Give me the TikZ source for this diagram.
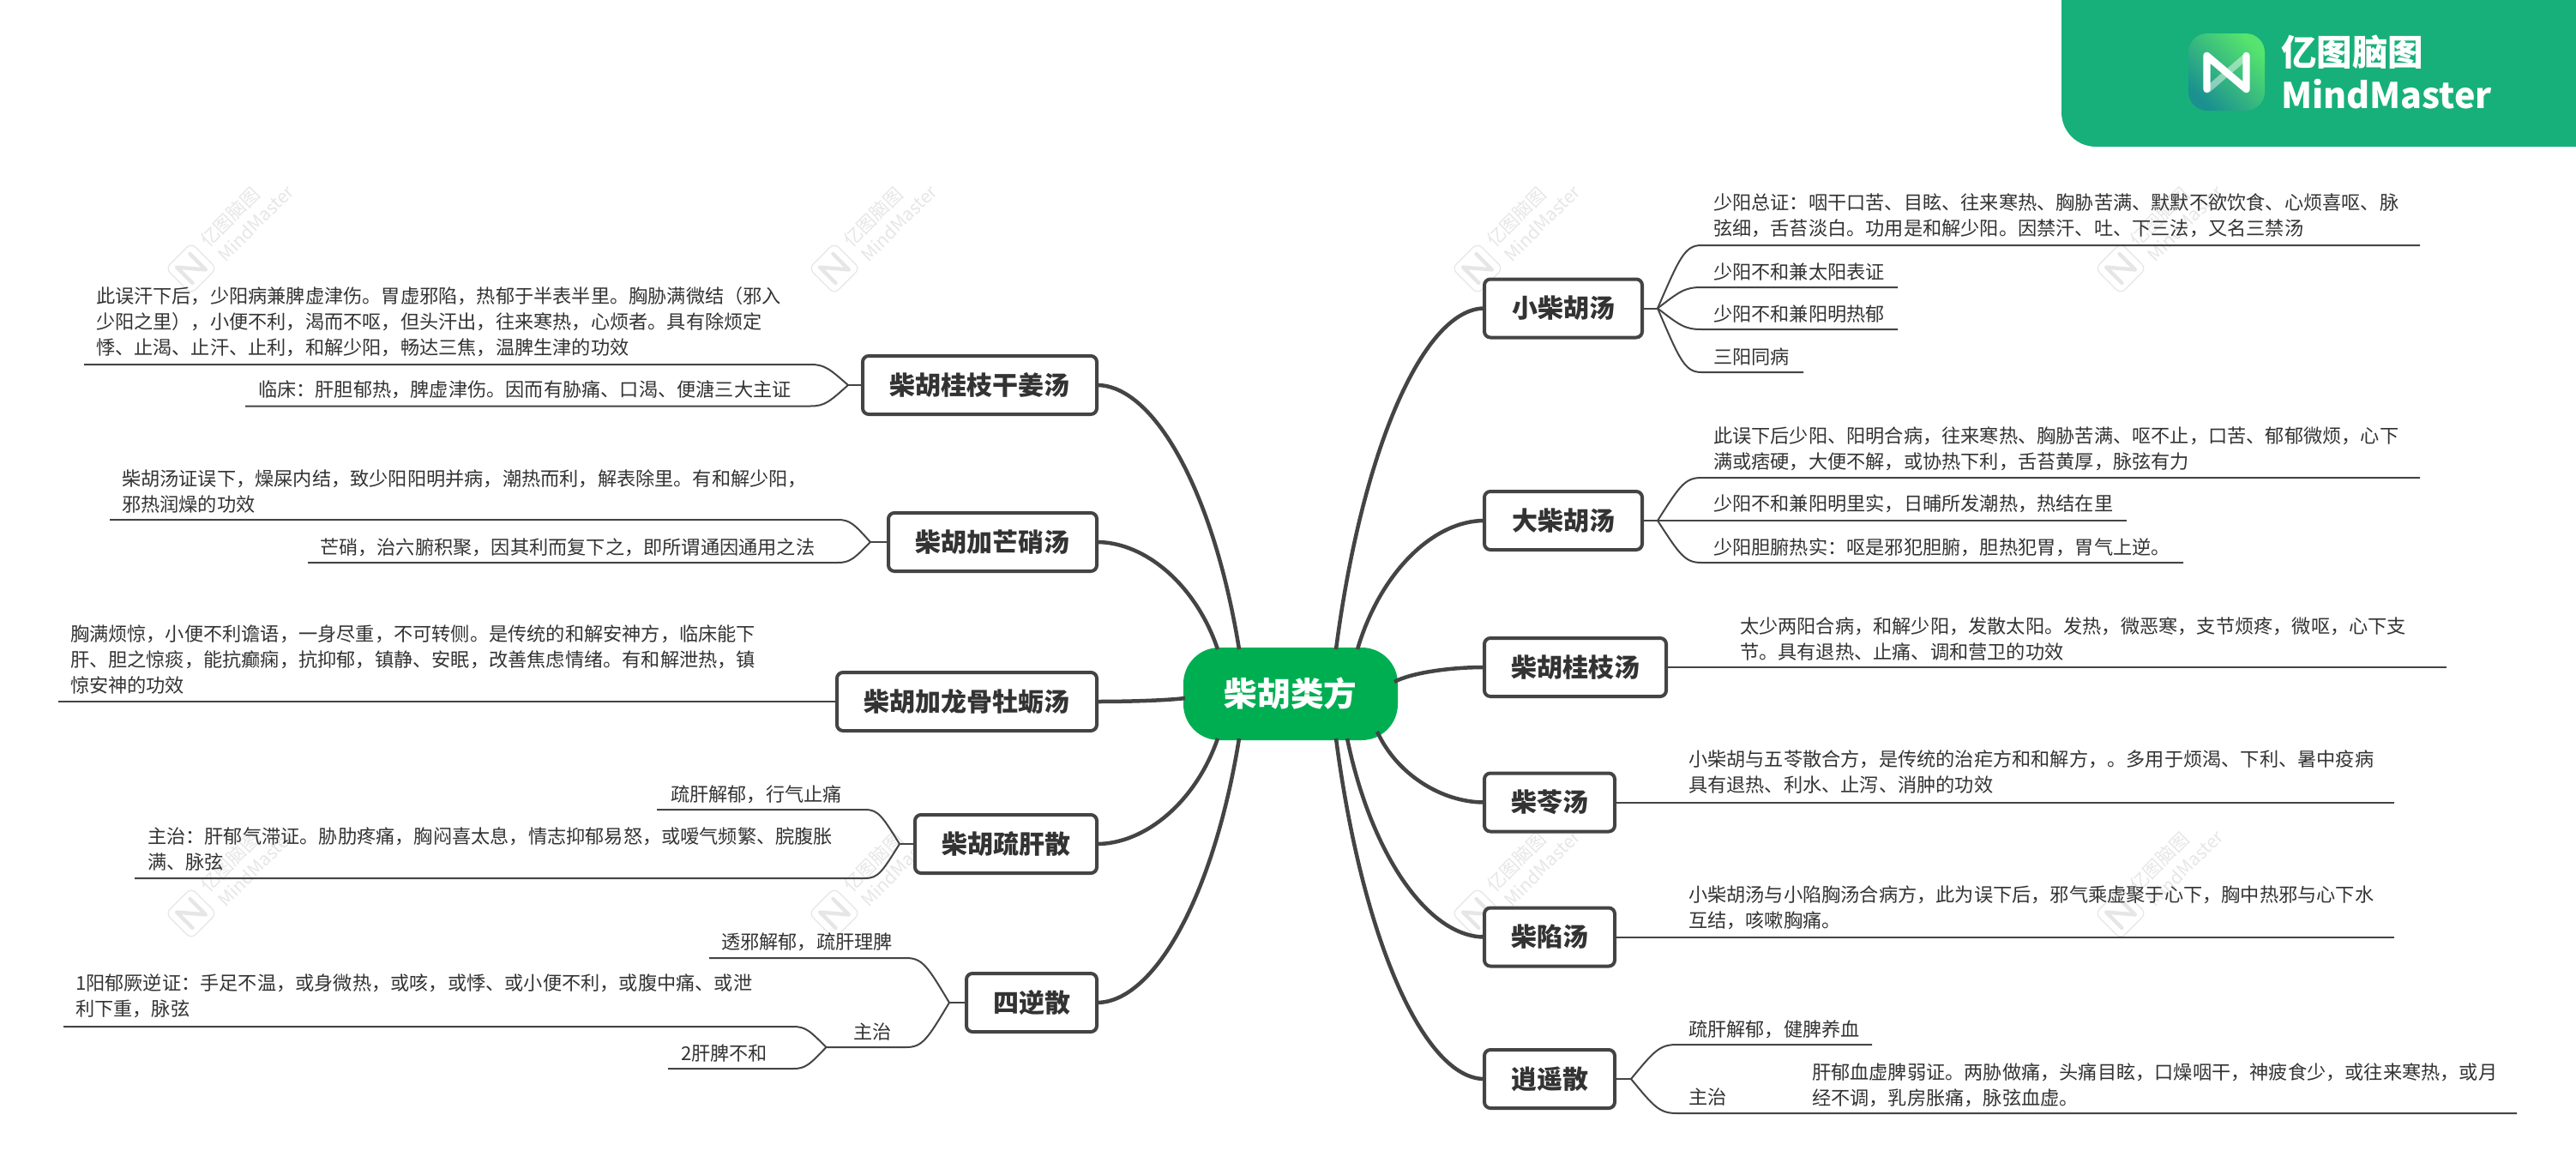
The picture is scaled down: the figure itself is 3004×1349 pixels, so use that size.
\documentclass[tikz,border=0pt]{standalone}
\usepackage{fontspec}
\setmainfont{Noto Sans CJK SC}
\usetikzlibrary{calc,shadings}
\definecolor{ink}{HTML}{333333}
\definecolor{linec}{HTML}{444444}
\definecolor{wmc}{HTML}{E6E6E6}
\definecolor{rootc}{HTML}{00AE52}
\definecolor{badgec}{HTML}{17B07A}
\definecolor{icona}{HTML}{56E46E}
\definecolor{iconb}{HTML}{1A9090}
\tikzset{
  x=0.5pt,y=-0.5pt,
  bodytxt/.style={anchor=west,inner sep=0pt,outer sep=0pt,align=left,text=ink,font=\fontsize{11.1}{15}\selectfont},
  topicw/.style={draw=linec,line width=2pt,rounded corners=3.5pt,fill=white,minimum height=34pt,inner sep=0pt,outer sep=0pt,text=ink,font=\fontsize{15}{18}\selectfont\bfseries,minimum width=#1},
  rootbox/.style={fill=rootc,rounded corners=21pt,minimum width=125pt,minimum height=54pt,inner sep=0pt,outer sep=0pt,text=white,font=\fontsize{19.3}{22}\selectfont\bfseries},
  mainlink/.style={draw=linec,line width=2.25pt},
  sublink/.style={draw=linec,line width=1pt},
  wmtxt/.style={text=wmc,inner sep=0pt,outer sep=0pt,rotate=45},
  badgetxt/.style={anchor=west,text=white,inner sep=0pt,outer sep=0pt,font=\bfseries}
}
\newcommand{\maincurve}[2]{\draw[mainlink] let \p1=(#1),\p2=(#2) in (#1) .. controls (\x1+0.18*\x2-0.18*\x1,\y1+0.6*\y2-0.6*\y1) and (\x1+0.6*\x2-0.6*\x1,\y2) .. (#2);}
\newcommand{\branch}[5]{%
  \coordinate (#2c) at (#3,#4);
  \coordinate (#2e) at (#5,#4);
  \draw[sublink] let \p1=(#1),\p2=(#2c) in (#1) .. controls (\x1+0.5*\x2-0.5*\x1,\y1+0.8*\y2-0.8*\y1) and (\x1+0.62*\x2-0.62*\x1,\y2) .. (#2c) -- (#2e);}
\newcommand{\straightlink}[4]{%
  \coordinate (#2e) at (#3,#4);
  \draw[sublink] (#1) -- (#2e);}
\begin{document}
\begin{tikzpicture}
\useasboundingbox (0,0) rectangle (3004,1349);
% watermarks
\foreach \wx in {223,973,1723,2473}{
 \foreach \wy in {313,1065}{
  \begin{scope}[shift={(\wx,\wy)}]
   \begin{scope}[rotate=45]
    \draw[wmc,line width=0.6pt,rounded corners=3.5pt,fill=white] (-21,-21) rectangle (21,21);
    \draw[wmc,line width=2.2pt,line join=round,line cap=round] (-11,13) -- (-11,-13) -- (11,13) -- (11,-13);
   \end{scope}
   \node[wmtxt,font=\fontsize{10.8}{12}\selectfont] (wa\wx\wy) at (45,-60) {亿图脑图};
   \node[wmtxt,font=\fontsize{10.5}{12}\selectfont] (wb\wx\wy) at (75,-53) {MindMaster};
  \end{scope}
 }
}
% badge
\fill[badgec,rounded corners=20pt] (2404,-60) rectangle (3064,171);
\node[minimum width=44.5pt,minimum height=45pt,inner sep=0pt,rounded corners=11pt,left color=icona,right color=iconb,shading angle=-45] (icon) at (2596.5,84) {};
\draw[white,opacity=0.45,line width=3.8pt,line cap=round] (2575,104) -- (2619,66);
\draw[white,line width=4.2pt,line join=round,line cap=round] ($(icon)+(-23,20)$) -- ($(icon)+(-23,-19)$) -- ($(icon)+(23,20)$) -- ($(icon)+(23,-19)$);
\node[badgetxt,font=\fontsize{20.8}{24}\selectfont\bfseries] (bdga) at (2660,61) {亿图脑图};
\node[badgetxt,font=\fontsize{20.6}{24}\selectfont\bfseries] (bdgb) at (2660,110) {MindMaster};
% root
\node[rootbox] (root) at (1505,809) {柴胡类方};
\coordinate (rt1) at (1558,757);
\coordinate (rt2) at (1583,757);
\coordinate (rt3) at (1626,795);
\coordinate (rb1) at (1606,853);
\coordinate (rb2) at (1571,861);
\coordinate (rb3) at (1558,861);
\coordinate (lt1) at (1445,757);
\coordinate (lt2) at (1420,757);
\coordinate (lm) at (1382,814);
\coordinate (lb1) at (1420,861);
\coordinate (lb2) at (1445,861);
% right topics
\node[topicw=92pt,anchor=west] (a1) at (1731,359.5) {小柴胡汤};
\node[topicw=92pt,anchor=west] (a2) at (1731,607) {大柴胡汤};
\node[topicw=106pt,anchor=west] (a3) at (1731,778) {柴胡桂枝汤};
\node[topicw=76pt,anchor=west] (a4) at (1731,935.5) {柴苓汤};
\node[topicw=76pt,anchor=west] (a5) at (1731,1092.5) {柴陷汤};
\node[topicw=76pt,anchor=west] (a6) at (1731,1258) {逍遥散};
% left topics
\node[topicw=136.5pt,anchor=east] (b1) at (1279,449) {柴胡桂枝干姜汤};
\node[topicw=121.5pt,anchor=east] (b2) at (1279,632) {柴胡加芒硝汤};
\node[topicw=151.5pt,anchor=east] (b3) at (1279,818) {柴胡加龙骨牡蛎汤};
\node[topicw=106pt,anchor=east] (b4) at (1279,984) {柴胡疏肝散};
\node[topicw=76pt,anchor=east] (b5) at (1279,1169) {四逆散};
% main connectors
\maincurve{rt1}{a1.west}
\maincurve{rt2}{a2.west}
\maincurve{rt3}{a3.west}
\maincurve{rb1}{a4.west}
\maincurve{rb2}{a5.west}
\maincurve{rb3}{a6.west}
\maincurve{lt1}{b1.east}
\maincurve{lt2}{b2.east}
\maincurve{lm}{b3.east}
\maincurve{lb1}{b4.east}
\maincurve{lb2}{b5.east}
% forks
\coordinate (fa1) at (1933,359.5);
\coordinate (fa2) at (1933,607);
\coordinate (fa6) at (1902,1258);
\coordinate (fb1) at (989,449);
\coordinate (fb2) at (1015,632);
\coordinate (fb4) at (1049,984);
\coordinate (fb5) at (1107,1169);
\coordinate (fb6) at (963.5,1221);
\draw[sublink] (a1.east) -- (fa1);
\draw[sublink] (a2.east) -- (fa2);
\draw[sublink] (a6.east) -- (fa6);
\draw[sublink] (b1.west) -- (fb1);
\draw[sublink] (b2.west) -- (fb2);
\draw[sublink] (b4.west) -- (fb4);
\draw[sublink] (b5.west) -- (fb5);
% right branches
\branch{fa1}{c11}{1984}{286}{2822}
\branch{fa1}{c12}{1984}{335}{2213}
\branch{fa1}{c13}{1984}{384}{2213}
\branch{fa1}{c14}{1984}{434}{2103}
\branch{fa2}{c21}{1984}{557}{2822}
\straightlink{fa2}{c22}{2480}{607}
\branch{fa2}{c23}{1984}{656}{2546}
\straightlink{a3.east}{c31}{2853}{778}
\straightlink{a4.east}{c41}{2792}{935.5}
\straightlink{a5.east}{c51}{2792}{1092.5}
\branch{fa6}{c61}{1955}{1218}{2183}
\branch{fa6}{c62}{1955}{1298}{2935}
% left branches
\branch{fb1}{d11}{945}{425}{98}
\branch{fb1}{d12}{945}{473.5}{286}
\branch{fb2}{d21}{977}{606}{128}
\branch{fb2}{d22}{977}{656}{359}
\straightlink{b3.west}{d31}{68}{818}
\branch{fb4}{d41}{1009}{944}{766}
\branch{fb4}{d42}{1009}{1024}{157}
\branch{fb5}{d51}{1057}{1117}{827}
\branch{fb5}{d52}{1057}{1221}{963.5}
\branch{fb6}{d61}{925}{1197}{74}
\branch{fb6}{d62}{925}{1246}{779}
% texts right
\node[bodytxt] (t11) at (1998,251) {少阳总证：咽干口苦、目眩、往来寒热、胸胁苦满、默默不欲饮食、心烦喜呕、脉\\弦细，舌苔淡白。功用是和解少阳。因禁汗、吐、下三法，又名三禁汤};
\node[bodytxt] (t12) at (1998,317) {少阳不和兼太阳表证};
\node[bodytxt] (t13) at (1998,366) {少阳不和兼阳明热郁};
\node[bodytxt] (t14) at (1998,416) {三阳同病};
\node[bodytxt] (t21) at (1998,523) {此误下后少阳、阳明合病，往来寒热、胸胁苦满、呕不止，口苦、郁郁微烦，心下\\满或痞硬，大便不解，或协热下利，舌苔黄厚，脉弦有力};
\node[bodytxt] (t22) at (1998,587) {少阳不和兼阳明里实，日晡所发潮热，热结在里};
\node[bodytxt] (t23) at (1998,638) {少阳胆腑热实：呕是邪犯胆腑，胆热犯胃，胃气上逆。};
\node[bodytxt] (t31) at (2029,745) {太少两阳合病，和解少阳，发散太阳。发热，微恶寒，支节烦疼，微呕，心下支\\节。具有退热、止痛、调和营卫的功效};
\node[bodytxt] (t41) at (1969,900.5) {小柴胡与五苓散合方，是传统的治疟方和和解方，。多用于烦渴、下利、暑中疫病\\具有退热、利水、止泻、消肿的功效};
\node[bodytxt] (t51) at (1969,1058) {小柴胡汤与小陷胸汤合病方，此为误下后，邪气乘虚聚于心下，胸中热邪与心下水\\互结，咳嗽胸痛。};
\node[bodytxt] (t61) at (1969,1200) {疏肝解郁，健脾养血};
\node[bodytxt] (t62) at (1969,1279) {主治};
\node[bodytxt] (t63) at (2113,1265) {肝郁血虚脾弱证。两胁做痛，头痛目眩，口燥咽干，神疲食少，或往来寒热，或月\\经不调，乳房胀痛，脉弦血虚。};
% texts left
\node[bodytxt] (u11) at (112,375) {此误汗下后，少阳病兼脾虚津伤。胃虚邪陷，热郁于半表半里。胸胁满微结（邪入\\少阳之里），小便不利，渴而不呕，但头汗出，往来寒热，心烦者。具有除烦定\\悸、止渴、止汗、止利，和解少阳，畅达三焦，温脾生津的功效};
\node[bodytxt] (u12) at (301,454) {临床：肝胆郁热，脾虚津伤。因而有胁痛、口渴、便溏三大主证};
\node[bodytxt] (u21) at (142,573) {柴胡汤证误下，燥屎内结，致少阳阳明并病，潮热而利，解表除里。有和解少阳，\\邪热润燥的功效};
\node[bodytxt] (u22) at (373,638) {芒硝，治六腑积聚，因其利而复下之，即所谓通因通用之法};
\node[bodytxt] (u31) at (82,769) {胸满烦惊，小便不利谵语，一身尽重，不可转侧。是传统的和解安神方，临床能下\\肝、胆之惊痰，能抗癫痫，抗抑郁，镇静、安眠，改善焦虑情绪。有和解泄热，镇\\惊安神的功效};
\node[bodytxt] (u41) at (782,926) {疏肝解郁，行气止痛};
\node[bodytxt] (u42) at (172,990) {主治：肝郁气滞证。胁肋疼痛，胸闷喜太息，情志抑郁易怒，或嗳气频繁、脘腹胀\\满、脉弦};
\node[bodytxt] (u51) at (841,1098) {透邪解郁，疏肝理脾};
\node[bodytxt] (u52) at (995,1203) {主治};
\node[bodytxt] (u61) at (88,1161) {1阳郁厥逆证：手足不温，或身微热，或咳，或悸、或小便不利，或腹中痛、或泄\\利下重，脉弦};
\node[bodytxt] (u62) at (794,1228) {2肝脾不和};
\end{tikzpicture}
\end{document}
